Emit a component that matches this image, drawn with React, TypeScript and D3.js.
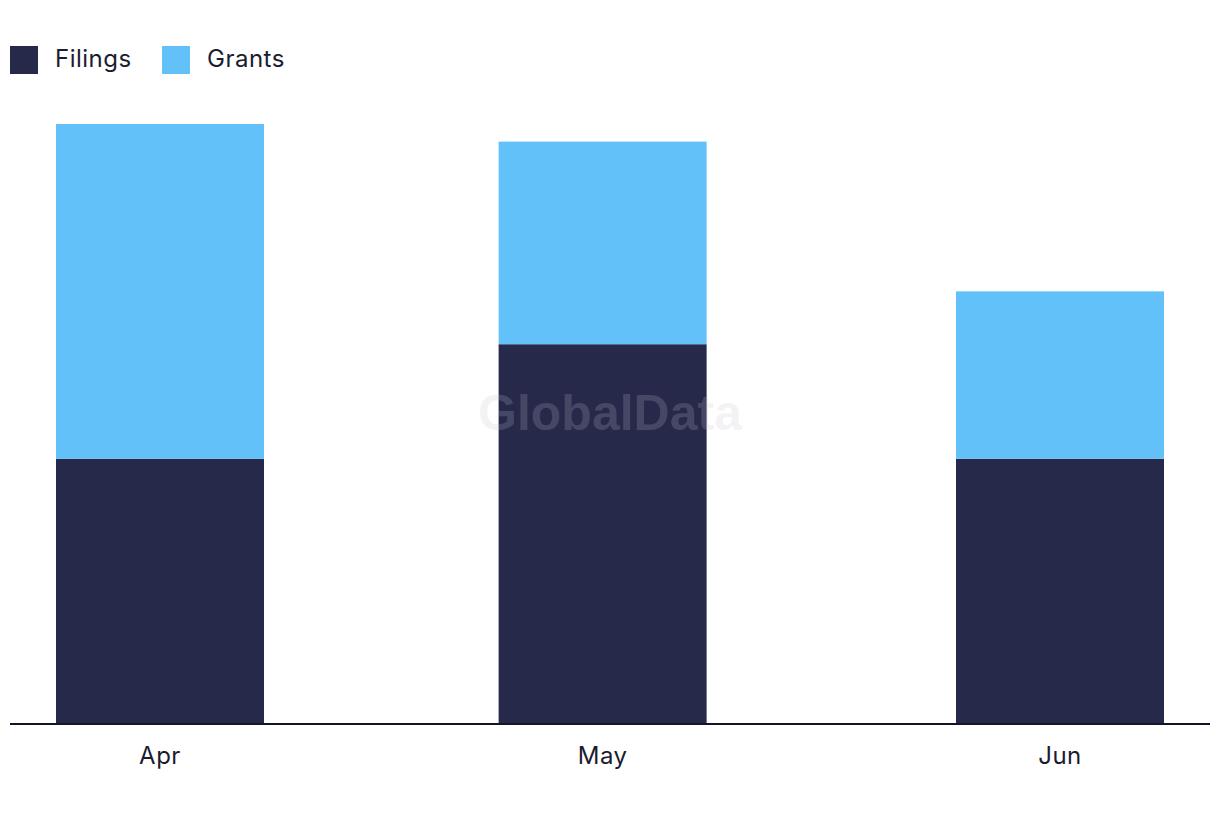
import { useEffect, useRef } from "react";
import * as d3 from "d3";

// Monthly values
const months = ["Apr", "May", "Jun"];
const monthDates = [new Date(2023, 3, 1), new Date(2023, 4, 1), new Date(2023, 5, 1)];
const filings = [30, 43, 30];
const grants = [38, 23, 19];
const seriesNames = ["Filings", "Grants"];
const seriesColors = ["#27294b", "#62c1f8"];

const WIDTH = 1220;
const HEIGHT = 822;

export default function App() {
  const svgRef = useRef<SVGSVGElement>(null);

  useEffect(() => {
    if (!svgRef.current) return;
    const svg = d3.select(svgRef.current);
    svg.selectAll("*").remove();

    const font = "Inter, 'Noto Sans', sans-serif";
    const baseline = 723;
    const barWidth = 208;

    const rows = months.map((m, i) => ({
      month: m,
      date: monthDates[i],
      Filings: filings[i],
      Grants: grants[i],
    }));

    // Time scale gives the slightly uneven month spacing of the original
    const x = d3.scaleTime().domain([monthDates[0], monthDates[2]]).range([160, 1060]);
    const maxTotal = d3.max(rows, (d) => d.Filings + d.Grants) as number;
    const y = d3.scaleLinear().domain([0, maxTotal]).range([baseline, 124]);

    const stacked = d3.stack<any>().keys(seriesNames)(rows);

    // Legend
    const legend = svg.append("g").attr("transform", "translate(10,46)");
    const legendX = [0, 152];
    seriesNames.forEach((name, i) => {
      legend
        .append("rect")
        .attr("x", legendX[i])
        .attr("y", 0)
        .attr("width", 28)
        .attr("height", 28)
        .attr("fill", seriesColors[i]);
      legend
        .append("text")
        .attr("x", legendX[i] + 45)
        .attr("y", 21)
        .attr("font-family", font)
        .attr("font-size", "24px")
        .attr("letter-spacing", "0.5px")
        .attr("fill", "#1b1c30")
        .text(name);
    });

    // Bars
    stacked.forEach((layer, li) => {
      svg
        .append("g")
        .selectAll("rect")
        .data(layer)
        .join("rect")
        .attr("x", (d: any) => x(d.data.date) - barWidth / 2)
        .attr("y", (d) => y(d[1]))
        .attr("width", barWidth)
        .attr("height", (d) => y(d[0]) - y(d[1]))
        .attr("fill", seriesColors[li]);
    });

    // Watermark
    svg
      .append("text")
      .attr("x", 610)
      .attr("y", 430)
      .attr("text-anchor", "middle")
      .attr("font-family", "'Liberation Sans', Arial, sans-serif")
      .attr("font-weight", "bold")
      .attr("font-size", "50px")
      .attr("fill", "rgb(195,195,205)")
      .attr("fill-opacity", 0.2)
      .text("GlobalData");

    // Axis line
    svg
      .append("line")
      .attr("x1", 10)
      .attr("x2", 1210)
      .attr("y1", baseline + 1)
      .attr("y2", baseline + 1)
      .attr("stroke", "#14142a")
      .attr("stroke-width", 2);

    // Month labels
    svg
      .append("g")
      .selectAll("text")
      .data(rows)
      .join("text")
      .attr("x", (d) => x(d.date))
      .attr("y", 764)
      .attr("text-anchor", "middle")
      .attr("font-family", font)
      .attr("font-size", "24px")
      .attr("letter-spacing", "0.5px")
      .attr("fill", "#1b1c30")
      .text((d) => d.month);
  }, []);

  return (
    <svg
      ref={svgRef}
      width={WIDTH}
      height={HEIGHT}
      style={{ display: "block", position: "absolute", left: 0, top: 0, background: "#fff" }}
    />
  );
}
